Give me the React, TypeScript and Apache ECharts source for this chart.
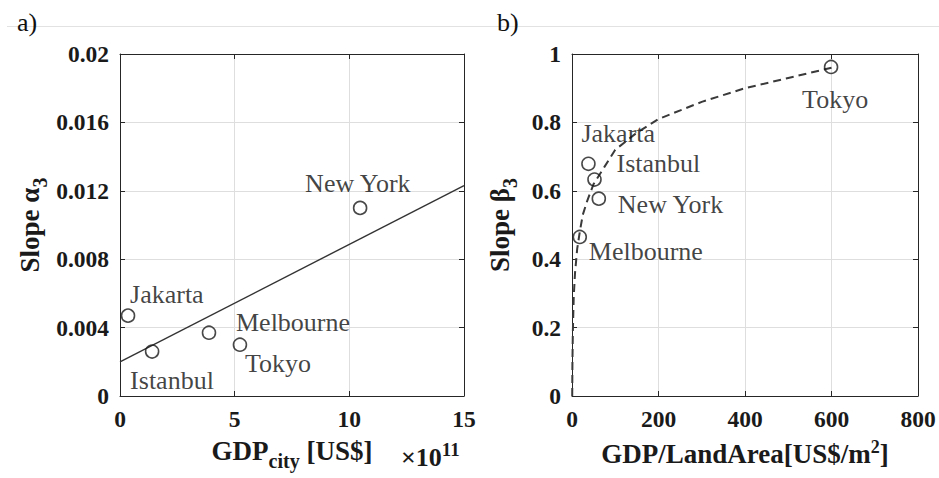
import React, { useEffect, useRef } from "react";
import * as echarts from "echarts";

// ---- Panel a) data ----
const citiesA = ["Jakarta", "Istanbul", "Melbourne", "Tokyo", "New York"];
const gdpCity = [0.35, 1.4, 3.88, 5.23, 10.47]; // x 10^11 US$
const slopeAlpha = [0.0047, 0.0026, 0.0037, 0.003, 0.011];
const fitAX = [0, 15];
const fitAY = [0.002, 0.0123];
const xTicksA = [0, 5, 10, 15];
const yTicksA = [0, 0.004, 0.008, 0.012, 0.016, 0.02];

// ---- Panel b) data ----
const citiesB = ["Tokyo", "Jakarta", "Istanbul", "New York", "Melbourne"];
const gdpPerArea = [599, 38, 52, 62, 18];
const slopeBeta = [0.962, 0.679, 0.633, 0.577, 0.465];
const curveBX = [0.5, 1, 2, 4, 7, 12, 18, 25, 35, 50, 75, 100, 150, 200, 300, 400, 500, 600];
const curveBY = [0, 0.1, 0.19, 0.29, 0.36, 0.43, 0.48, 0.53, 0.57, 0.62, 0.67, 0.72, 0.77, 0.81, 0.86, 0.9, 0.93, 0.96];
const xTicksB = [0, 200, 400, 600, 800];
const yTicksB = [0, 0.2, 0.4, 0.6, 0.8, 1];

// ---- label placement (styling, pixels relative to marker) ----
const labelOffsetA: Record<string, [number, number]> = {
  Jakarta: [2, -21],
  Istanbul: [-22, 29],
  Melbourne: [27, -10],
  Tokyo: [5, 19],
  "New York": [-55, -24],
};
const labelOffsetB: Record<string, [number, number]> = {
  Tokyo: [-29, 33],
  Jakarta: [-7, -30],
  Istanbul: [22, -16],
  "New York": [19, 6],
  Melbourne: [9, 15],
};

const FONT = '"Liberation Serif", "Times New Roman", serif';
const AXIS_COLOR = "#262626";
const GRID_COLOR = "#dedede";
const TEXT_COLOR = "#1a1a1a";
const TICK_SIZE = 23.5;
const TITLE_SIZE = 27;
const NOTE_SIZE = 26;

function fmt(v: number, digits: number) {
  return String(parseFloat(v.toFixed(digits)));
}

function mainX(gridIndex: number, ticks: number[], name: string, nameGap: number, rich: any) {
  return {
    type: "value",
    gridIndex,
    position: "bottom",
    min: ticks[0],
    max: ticks[ticks.length - 1],
    interval: ticks[1] - ticks[0],
    axisLine: { show: true, onZero: false, lineStyle: { color: AXIS_COLOR, width: 1 } },
    axisTick: { show: true, inside: true, length: 5, lineStyle: { color: AXIS_COLOR } },
    splitLine: { show: true, lineStyle: { color: GRID_COLOR, width: 1 } },
    axisLabel: {
      fontFamily: FONT,
      fontWeight: "bold",
      fontSize: TICK_SIZE,
      color: TEXT_COLOR,
      margin: 11,
      formatter: (v: number) => fmt(v, 0),
    },
    name,
    nameLocation: "middle",
    nameGap,
    nameTextStyle: { fontFamily: FONT, fontWeight: "bold", fontSize: TITLE_SIZE, color: TEXT_COLOR, rich },
  };
}

function boxX(gridIndex: number, ticks: number[]) {
  return {
    type: "value",
    gridIndex,
    position: "top",
    min: ticks[0],
    max: ticks[ticks.length - 1],
    interval: ticks[1] - ticks[0],
    axisLine: { show: true, onZero: false, lineStyle: { color: AXIS_COLOR, width: 1 } },
    axisTick: { show: true, inside: true, length: 5, lineStyle: { color: AXIS_COLOR } },
    splitLine: { show: false },
    axisLabel: { show: false },
  };
}

function mainY(gridIndex: number, ticks: number[], digits: number, name: string, nameGap: number, rich: any) {
  return {
    type: "value",
    gridIndex,
    position: "left",
    min: ticks[0],
    max: ticks[ticks.length - 1],
    interval: ticks[1] - ticks[0],
    axisLine: { show: true, onZero: false, lineStyle: { color: AXIS_COLOR, width: 1 } },
    axisTick: { show: true, inside: true, length: 5, lineStyle: { color: AXIS_COLOR } },
    splitLine: { show: true, lineStyle: { color: GRID_COLOR, width: 1 } },
    axisLabel: {
      fontFamily: FONT,
      fontWeight: "bold",
      fontSize: TICK_SIZE,
      color: TEXT_COLOR,
      margin: 11,
      formatter: (v: number) => fmt(v, digits),
    },
    name,
    nameLocation: "middle",
    nameRotate: 90,
    nameGap,
    nameTextStyle: { fontFamily: FONT, fontWeight: "bold", fontSize: TITLE_SIZE, color: TEXT_COLOR, rich },
  };
}

function boxY(gridIndex: number, ticks: number[]) {
  return {
    type: "value",
    gridIndex,
    position: "right",
    min: ticks[0],
    max: ticks[ticks.length - 1],
    interval: ticks[1] - ticks[0],
    axisLine: { show: true, onZero: false, lineStyle: { color: AXIS_COLOR, width: 1 } },
    axisTick: { show: true, inside: true, length: 5, lineStyle: { color: AXIS_COLOR } },
    splitLine: { show: false },
    axisLabel: { show: false },
  };
}

const subRich = {
  sub: { fontFamily: FONT, fontWeight: "bold", fontSize: 20, color: TEXT_COLOR, padding: [20, 0, 0, 0] },
};
const supRich = {
  sup: { fontFamily: FONT, fontWeight: "bold", fontSize: 18, color: TEXT_COLOR, padding: [0, 0, 14, 0] },
};

function scatterData(names: string[], xs: number[], ys: number[], offsets: Record<string, [number, number]>) {
  return names.map((n, i) => ({
    name: n,
    value: [xs[i], ys[i]],
    label: { offset: offsets[n] },
  }));
}

const markerStyle = {
  type: "scatter",
  symbol: "circle",
  symbolSize: 13,
  itemStyle: { color: "rgba(0,0,0,0)", borderColor: "#1a1a1a", borderWidth: 1.6 },
  label: {
    show: true,
    position: "inside",
    align: "left",
    verticalAlign: "middle",
    formatter: "{b}",
    fontFamily: FONT,
    fontSize: NOTE_SIZE,
    color: "#111",
  },
  z: 5,
};

export default function App() {
  const ref = useRef<HTMLDivElement>(null);
  useEffect(() => {
    document.body.style.margin = "0";
    const chart = echarts.init(ref.current!, null, { renderer: "svg" });
    const option: any = {
      animation: false,
      backgroundColor: "#ffffff",
      grid: [
        { left: 120, top: 54, width: 344, height: 342 },
        { left: 572, top: 54, width: 346, height: 342 },
      ],
      xAxis: [
        mainX(0, xTicksA, "GDP{sub|city} [US$]", 35, subRich),
        boxX(0, xTicksA),
        mainX(1, xTicksB, "GDP/LandArea[US$/m{sup|2}]", 42, supRich),
        boxX(1, xTicksB),
      ],
      yAxis: [
        mainY(0, yTicksA, 3, "Slope α{sub|3}", 70, subRich),
        boxY(0, yTicksA),
        mainY(1, yTicksB, 1, "Slope β{sub|3}", 52, subRich),
        boxY(1, yTicksB),
      ],
      series: [
        {
          type: "line",
          xAxisIndex: 0,
          yAxisIndex: 0,
          data: fitAX.map((x, i) => [x, fitAY[i]]),
          symbol: "none",
          lineStyle: { color: "#333", width: 1.4 },
          z: 3,
        },
        {
          ...markerStyle,
          xAxisIndex: 0,
          yAxisIndex: 0,
          data: scatterData(citiesA, gdpCity, slopeAlpha, labelOffsetA),
        },
        {
          type: "line",
          xAxisIndex: 2,
          yAxisIndex: 2,
          data: curveBX.map((x, i) => [x, curveBY[i]]),
          symbol: "none",
          smooth: false,
          lineStyle: { color: "#3a3a3a", width: 2, type: [8, 5] },
          z: 3,
        },
        {
          ...markerStyle,
          xAxisIndex: 2,
          yAxisIndex: 2,
          data: scatterData(citiesB, gdpPerArea, slopeBeta, labelOffsetB),
        },
      ],
      graphic: [
        {
          type: "line",
          shape: { x1: 7, y1: 26.5, x2: 939, y2: 26.5 },
          style: { stroke: "#e2e2e2", lineWidth: 1 },
          silent: true,
        },
        {
          type: "text",
          x: 17,
          y: 22,
          style: { text: "a)", font: `26px ${FONT}`, fill: "#111", verticalAlign: "middle" },
        },
        {
          type: "text",
          x: 497,
          y: 22,
          style: { text: "b)", font: `26px ${FONT}`, fill: "#111", verticalAlign: "middle" },
        },
        {
          type: "text",
          x: 401,
          y: 457,
          style: {
            text: "×10{sup|11}",
            fontFamily: FONT,
            fontWeight: "bold",
            fontSize: 26,
            fill: TEXT_COLOR,
            verticalAlign: "middle",
            rich: {
              sup: { fontFamily: FONT, fontWeight: "bold", fontSize: 19, fill: TEXT_COLOR, padding: [0, 0, 16, 0] },
            },
          },
        },
      ],
    };
    chart.setOption(option);
    return () => chart.dispose();
  }, []);
  return <div ref={ref} style={{ width: 939, height: 478 }} />;
}
